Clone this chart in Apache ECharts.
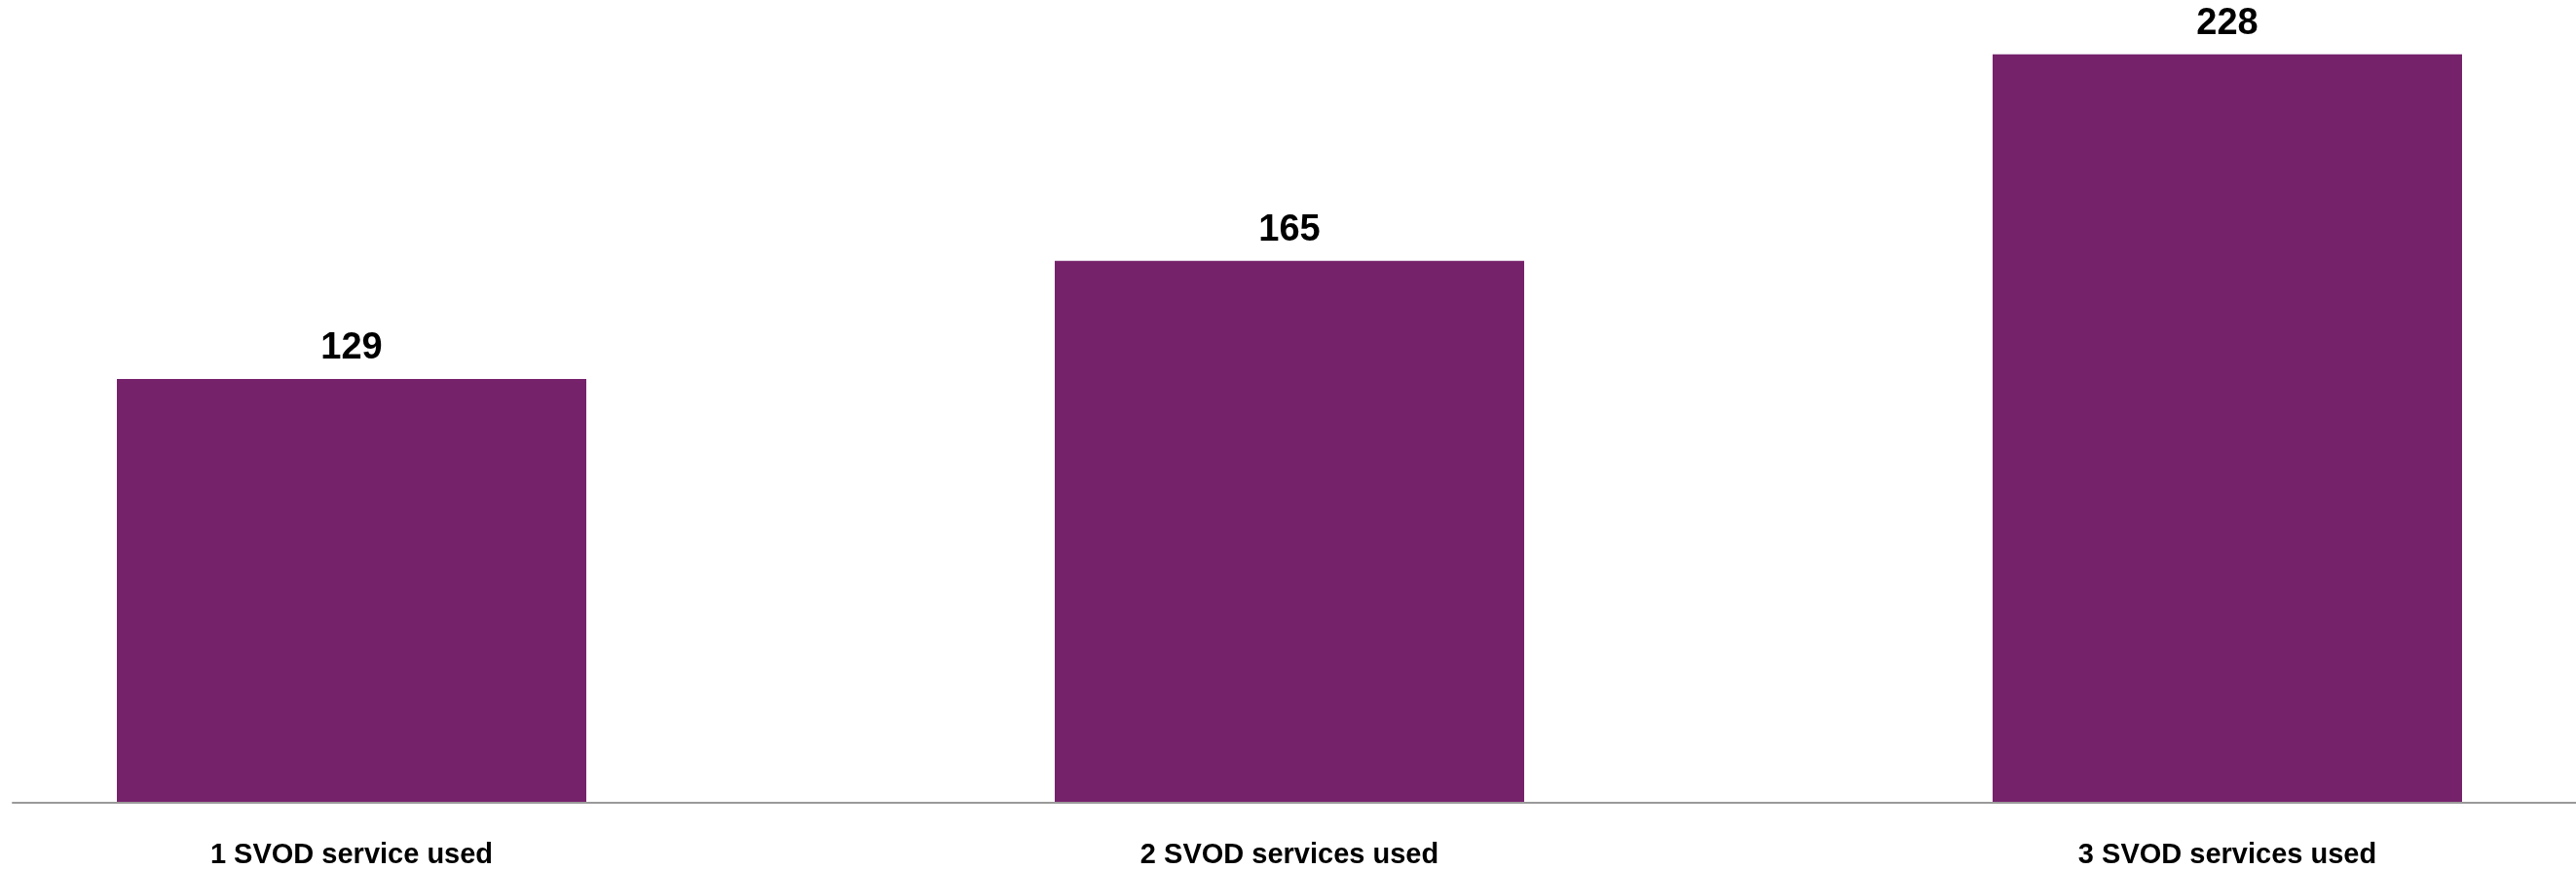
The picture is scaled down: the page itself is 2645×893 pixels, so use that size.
<!DOCTYPE html>
<html>
<head>
<meta charset="utf-8">
<script src="https://cdn.jsdelivr.net/npm/echarts@6/dist/echarts.min.js"></script>
<style>
  html, body { margin: 0; padding: 0; background: #ffffff; }
  #chart { width: 2645px; height: 893px; }
</style>
</head>
<body>
<div id="chart"></div>
<script>
// Number of SVOD services used
const categories = ['1 SVOD service used', '2 SVOD services used', '3 SVOD services used'];
const values = [129, 165, 228];

const barColor = '#76226B';
const fontFamily = '"Liberation Sans", Arial, sans-serif';

const chart = echarts.init(document.getElementById('chart'));
chart.setOption({
  animation: false,
  backgroundColor: '#ffffff',
  grid: [
    // bar grid: category ticks sit on the bar centres
    { left: 361, right: 358, top: 0, bottom: 70, containLabel: false },
    // baseline rule across the full width
    { left: 13, right: 0, top: 0, bottom: 69, containLabel: false }
  ],
  xAxis: [
    {
      type: 'category',
      gridIndex: 0,
      data: categories,
      boundaryGap: false,
      axisLine: { show: false },
      axisTick: { show: false },
      axisLabel: {
        color: '#000000',
        fontFamily: fontFamily,
        fontWeight: 'bold',
        fontSize: 29,
        margin: 40,
        interval: 0
      }
    },
    {
      type: 'category',
      gridIndex: 1,
      data: [],
      axisLine: { show: true, lineStyle: { color: '#9a9a9a', width: 2 } },
      axisTick: { show: false },
      axisLabel: { show: false }
    }
  ],
  yAxis: [
    { type: 'value', gridIndex: 0, min: 0, max: 244.6, show: false },
    { type: 'value', gridIndex: 1, min: 0, max: 244.6, show: false }
  ],
  series: [{
    type: 'bar',
    xAxisIndex: 0,
    yAxisIndex: 0,
    data: values,
    barWidth: 482,
    clip: false,
    itemStyle: { color: barColor },
    label: {
      show: true,
      position: 'top',
      distance: 12,
      color: '#000000',
      fontFamily: fontFamily,
      fontWeight: 'bold',
      fontSize: 38
    }
  }]
});
</script>
</body>
</html>
